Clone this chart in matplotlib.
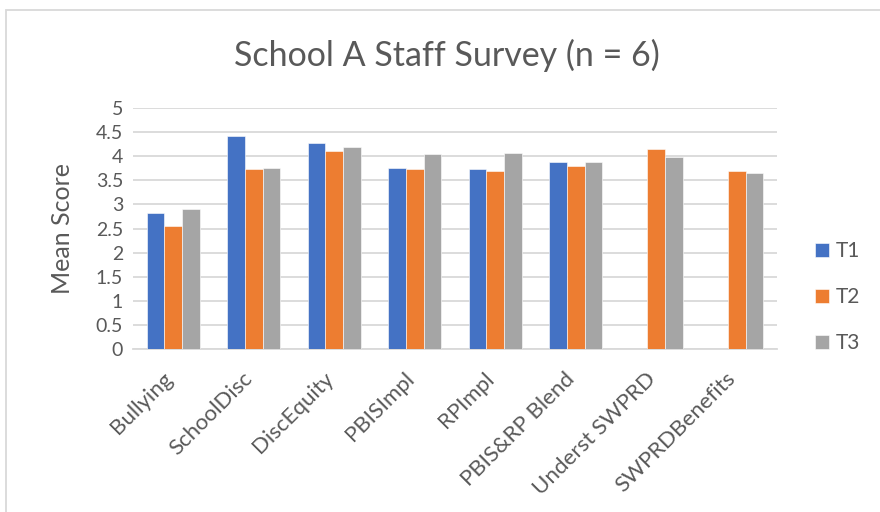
import numpy as np
import matplotlib.pyplot as plt
import matplotlib.transforms as mtransforms
from matplotlib.patches import Rectangle

categories = ["Bullying", "SchoolDisc", "DiscEquity", "PBISImpl", "RPImpl",
              "PBIS&RP Blend", "Underst SWPRD", "SWPRDBenefits"]
t1 = [2.82, 4.41, 4.27, 3.75, 3.73, 3.89, np.nan, np.nan]
t2 = [2.56, 3.73, 4.11, 3.73, 3.69, 3.80, 4.16, 3.70]
t3 = [2.91, 3.76, 4.20, 4.05, 4.07, 3.89, 3.99, 3.66]
series = ["T1", "T2", "T3"]
colors = ["#4472C4", "#ED7D31", "#A5A5A5"]

plt.rcParams['font.family'] = ['Lato', 'DejaVu Sans']
text_color = "#595959"

fig = plt.figure(figsize=(8.8, 5.12), dpi=100)
ax = fig.add_axes([0.151, 0.318, 0.732, 0.471])

# chart border like the Excel frame
fig.patches.append(Rectangle((6 / 880, -0.1), 1.2, 1 - 10 / 512 + 0.1,
                             transform=fig.transFigure, fill=False,
                             edgecolor="#d9d9d9", linewidth=1.3))

x = np.arange(len(categories))
width = 0.22
for i, (vals, name, c) in enumerate(zip([t1, t2, t3], series, colors)):
    ax.bar(x + (i - 1) * width, vals, width, color=c, label=name,
           edgecolor="white", linewidth=0.4, zorder=3)

ax.set_xlim(-0.5, len(categories) - 0.5)
ax.set_ylim(0, 5)
ax.set_yticks(np.arange(0, 5.01, 0.5))
ax.set_yticklabels([f"{v:g}" for v in np.arange(0, 5.01, 0.5)])
ax.grid(axis="y", color="#d9d9d9", linewidth=1.3, zorder=0)
for s in ["top", "right", "left"]:
    ax.spines[s].set_visible(False)
ax.spines["bottom"].set_color("#d9d9d9")
ax.spines["bottom"].set_linewidth(1.3)
ax.tick_params(length=0, labelsize=14, colors=text_color, pad=7)
ax.set_xticks(x)
ax.set_xticklabels(categories, rotation=45, ha="right", rotation_mode="anchor")
ax.tick_params(axis="x", labelsize=16, pad=14)
shift = mtransforms.ScaledTranslation(-0.11, 0, fig.dpi_scale_trans)
for lbl in ax.get_xticklabels():
    lbl.set_transform(lbl.get_transform() + shift)

ax.set_ylabel("Mean Score", fontsize=18, color=text_color, labelpad=16)
fig.text(0.508, 1 - 55 / 512, "School A Staff Survey (n = 6)", ha="center",
         va="center", fontsize=24.5, color=text_color)

leg = ax.legend(loc="center left", bbox_to_anchor=(1.03, 0.216), frameon=False,
                fontsize=15, handlelength=0.65, handleheight=0.65,
                handletextpad=0.35, labelspacing=1.25)
for t in leg.get_texts():
    t.set_color(text_color)

fig.savefig("out.png", dpi=100)
